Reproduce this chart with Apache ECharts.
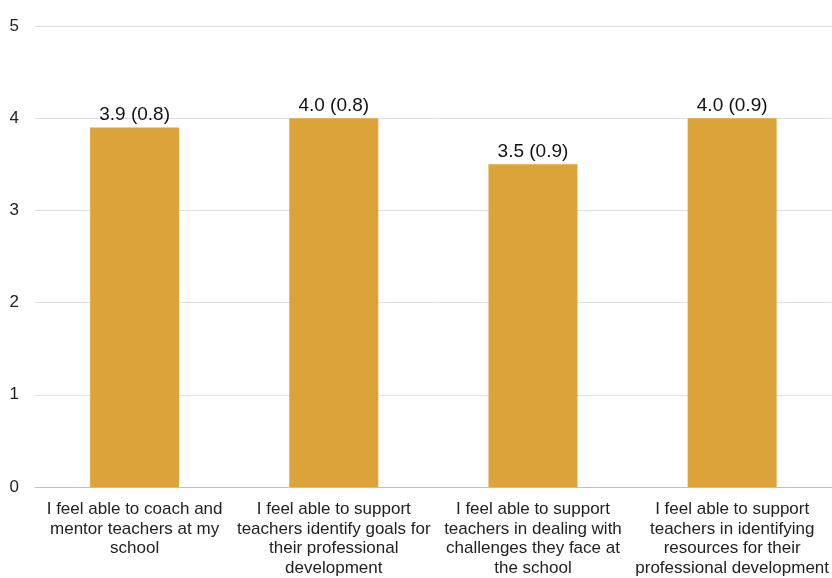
<!DOCTYPE html>
<html>
<head>
<meta charset="utf-8">
<script src="https://cdn.jsdelivr.net/npm/echarts@6/dist/echarts.min.js"></script>
<style>
  html, body { margin: 0; padding: 0; background: #fff; }
  #chart { width: 832px; height: 578px; }
</style>
</head>
<body>
<div id="chart"></div>
<script>
// Survey statements (wrapped for the category axis)
const categories = [
  'I feel able to coach and\nmentor teachers at my\nschool',
  'I feel able to support\nteachers identify goals for\ntheir professional\ndevelopment',
  'I feel able to support\nteachers in dealing with\nchallenges they face at\nthe school',
  'I feel able to support\nteachers in identifying\nresources for their\nprofessional development'
];
// Mean rating and standard deviation per statement
const means = [3.9, 4.0, 3.5, 4.0];
const stdDevs = [0.8, 0.8, 0.9, 0.9];
const yTicks = [0, 1, 2, 3, 4, 5];

const chart = echarts.init(document.getElementById('chart'));
chart.setOption({
  animation: false,
  textStyle: { fontFamily: 'Liberation Sans, Arial, sans-serif' },
  grid: { left: 35, right: 0, top: 26, bottom: 87, containLabel: false },
  xAxis: {
    type: 'category',
    data: categories,
    axisTick: { show: false },
    axisLine: { show: true, lineStyle: { color: '#bfbfbf', width: 1 } },
    axisLabel: {
      interval: 0,
      color: '#222',
      fontSize: 17,
      lineHeight: 19.5,
      margin: 13
    }
  },
  yAxis: {
    type: 'value',
    min: yTicks[0],
    max: yTicks[yTicks.length - 1],
    interval: 1,
    axisLine: { show: false },
    axisTick: { show: false },
    axisLabel: { color: '#222', fontSize: 17, margin: 16 },
    splitLine: { lineStyle: { color: '#e0e0e0', width: 1 } }
  },
  series: [{
    type: 'bar',
    data: means,
    barWidth: 89,
    itemStyle: { color: '#DBA33A' },
    label: {
      show: true,
      position: 'top',
      distance: 3,
      color: '#111',
      fontSize: 19,
      formatter: p => p.value.toFixed(1) + ' (' + stdDevs[p.dataIndex].toFixed(1) + ')'
    }
  }]
});
</script>
</body>
</html>
